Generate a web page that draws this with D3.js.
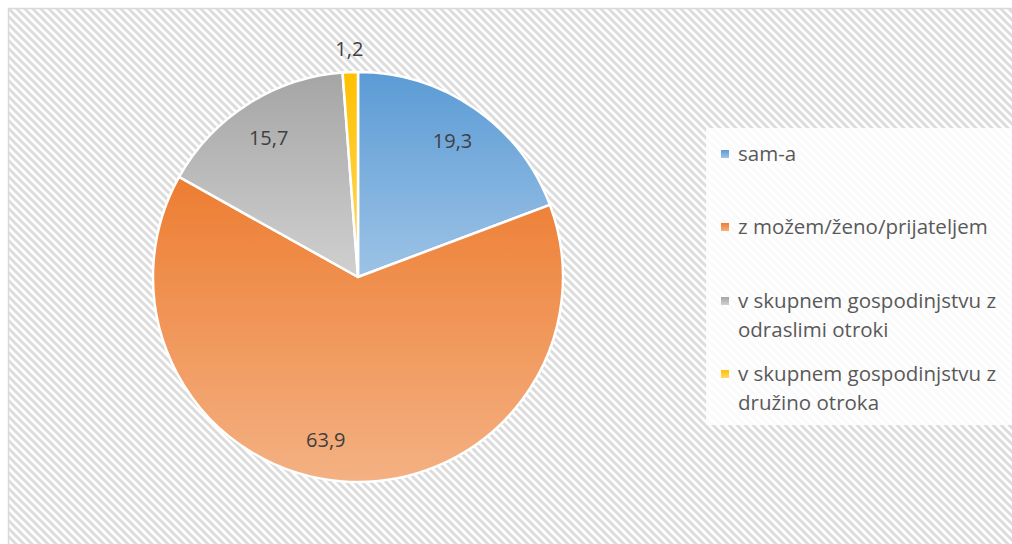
<!DOCTYPE html>
<html><head><meta charset="utf-8">
<script src="https://cdn.jsdelivr.net/npm/d3@7/dist/d3.min.js"></script>
<style>html,body{margin:0;padding:0;background:#fff;overflow:hidden}svg{display:block}</style>
</head><body>
<script>
const categories = ["sam-a", "z možem/ženo/prijateljem", "v skupnem gospodinjstvu z odraslimi otroki", "v skupnem gospodinjstvu z družino otroka"];
const legendLines = [["sam-a"], ["z možem/ženo/prijateljem"], ["v skupnem gospodinjstvu z", "odraslimi otroki"], ["v skupnem gospodinjstvu z", "družino otroka"]];
const values = [19.3, 63.9, 15.7, 1.2];
const labels = ["19,3", "63,9", "15,7", "1,2"];
const colorsTop = ["#5B9BD5", "#ED7D31", "#A5A5A5", "#FFC000"];
const colorsBottom = ["#9DC3E6", "#F4B183", "#D0D0D0", "#FFD966"];

const W = 1012, H = 544;
const svg = d3.select("body").append("svg").attr("width", W).attr("height", H);
const defs = svg.append("defs");
const pat = defs.append("pattern").attr("id", "hatch").attr("patternUnits", "userSpaceOnUse")
  .attr("width", 8).attr("height", 8);
pat.append("rect").attr("width", 8).attr("height", 8).attr("fill", "#fff");
pat.append("path").attr("d", "M-2,-2L10,10M-2,6L2,10M6,-2L10,2").attr("stroke", "#DCDCDC").attr("stroke-width", 3);

colorsTop.forEach((c, i) => {
  const g = defs.append("linearGradient").attr("id", "grad" + i).attr("x1", 0).attr("y1", 0).attr("x2", 0).attr("y2", 1);
  g.append("stop").attr("offset", "0%").attr("stop-color", c);
  g.append("stop").attr("offset", "100%").attr("stop-color", colorsBottom[i]);
});

svg.append("rect").attr("x", 8.5).attr("y", 8.5).attr("width", W + 10).attr("height", H + 10)
  .attr("fill", "url(#hatch)").attr("stroke", "#D9D9D9").attr("stroke-width", 1.5);

const cx = 358, cy = 277, R = 205;
const pie = d3.pie().sort(null).value(d => d);
const arcs = pie(values);
const arc = d3.arc().innerRadius(0).outerRadius(R);
const g = svg.append("g").attr("transform", `translate(${cx},${cy})`);
g.selectAll("path.slice").data(arcs).enter().append("path").attr("class", "slice")
  .attr("d", arc).attr("fill", (d, i) => `url(#grad${i})`)
  .attr("stroke", "#fff").attr("stroke-width", 2.5).attr("stroke-linejoin", "round");

const fontFam = "'Open Sans', 'Noto Sans', sans-serif";
g.selectAll("text.lbl").data(arcs).enter().append("text").attr("class", "lbl")
  .attr("transform", (d, i) => {
    let a = (d.startAngle + d.endAngle) / 2;
    const span = d.endAngle - d.startAngle;
    if (span > Math.PI) a += 0.12;
    const r = span < 0.15 ? R + 24 : R * 0.81;
    return `translate(${r * Math.sin(a)},${-r * Math.cos(a)})`;
  })
  .attr("text-anchor", "middle").attr("dominant-baseline", "central")
  .attr("font-family", fontFam).attr("font-size", 20).attr("fill", "#404040")
  .text((d, i) => labels[i]);

// legend
svg.append("rect").attr("x", 706).attr("y", 128).attr("width", W - 706).attr("height", 297)
  .attr("fill", "#fff").attr("opacity", 0.85);
const itemY = [153, 226, 300, 373];
const lg = svg.append("g");
categories.forEach((c, i) => {
  lg.append("rect").attr("x", 721).attr("y", itemY[i] - 3).attr("width", 8).attr("height", 8)
    .attr("fill", `url(#grad${i})`);
  const t = lg.append("text").attr("x", 738).attr("y", itemY[i]).attr("dominant-baseline", "central")
    .attr("font-family", fontFam).attr("font-size", 20.5).attr("fill", "#595959");
  legendLines[i].forEach((ln, j) => {
    t.append("tspan").attr("x", 738).attr("dy", j === 0 ? 0 : 29).text(ln);
  });
});
</script>
</body></html>
